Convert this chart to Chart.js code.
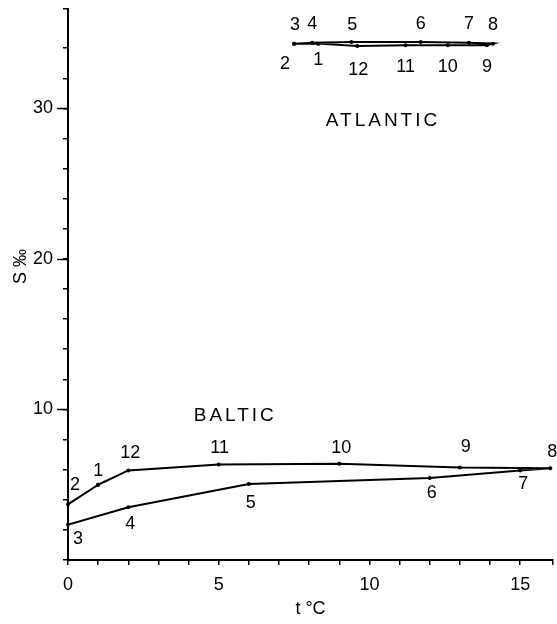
<!DOCTYPE html>
<html>
<head>
<meta charset="utf-8">
<script src="https://cdn.jsdelivr.net/npm/chart.js@4/dist/chart.umd.min.js"></script>
<style>
  html, body { margin: 0; padding: 0; background: #fff; }
  #wrap { width: 557px; height: 624px; position: relative; }
</style>
</head>
<body>
<div id="wrap"><canvas id="chTS"></canvas></div>
<script>
// T-S diagram, monthly means (1..12), Baltic vs Atlantic

const MONTHS = ['1', '2', '3', '4', '5', '6', '7', '8', '9', '10', '11', '12'];

// Baltic: temperature (°C) and salinity (‰)
const balticT = [1.0, 0.0, 0.0, 2.0, 6.0, 12.0, 15.0, 16.0, 13.0, 9.0, 5.0, 2.0];
const balticS = [5.0, 3.7, 2.35, 3.5, 5.05, 5.45, 5.95, 6.1, 6.15, 6.4, 6.35, 5.95];

// Atlantic
const atlanticT = [8.3, 7.5, 7.5, 8.1, 9.4, 11.7, 13.3, 14.1, 13.9, 12.6, 11.2, 9.6];
const atlanticS = [34.3, 34.3, 34.3, 34.35, 34.4, 34.4, 34.35, 34.3, 34.2, 34.2, 34.2, 34.15];

// axis ticks
const xLabelTicks = [0, 5, 10, 15];
const yLabelTicks = [10, 20, 30];

// where each month number sits relative to its point (px)
const balticLabelOff = [[0, -14], [7, -19], [10, 14], [2, 17], [2, 19], [2, 15],
                        [3, 14], [2, -16], [6, -20], [2, -16], [1, -16], [2, -17]];
const atlanticLabelOff = [[0, 16], [-9, 20], [1, -19], [0, -19], [1, -17], [0, -18],
                          [0, -19], [0, -19], [0, 22], [0, 22], [0, 22], [1, 24]];

// region names, placed in data coords
const regionNames = [
  { text: 'ATLANTIC', t: 10.4, s: 29.2 },
  { text: 'BALTIC', t: 5.5, s: 9.6 }
];

const FONT = 'Liberation Sans';
const INK = '#000';

function loop(ts, ss) {
  const pts = ts.map((t, i) => ({ x: t, y: ss[i] }));
  pts.push(pts[0]); // close the annual cycle
  return pts;
}

const monthLabels = {
  id: 'monthLabels',
  afterDatasetsDraw(chart) {
    const ctx = chart.ctx;
    ctx.save();
    ctx.fillStyle = INK;
    ctx.font = `18px "${FONT}"`;
    ctx.textAlign = 'center';
    ctx.textBaseline = 'middle';
    const offs = [balticLabelOff, atlanticLabelOff];
    chart.data.datasets.forEach((ds, di) => {
      const meta = chart.getDatasetMeta(di);
      MONTHS.forEach((m, i) => {
        const p = meta.data[i];
        ctx.fillText(m, p.x + offs[di][i][0], p.y + offs[di][i][1]);
      });
    });
    // region names
    const xs = chart.scales.x, ys = chart.scales.y;
    ctx.font = `19px "${FONT}"`;
    ctx.letterSpacing = '3px';
    for (const r of regionNames) {
      ctx.fillText(r.text, xs.getPixelForValue(r.t) + 1.5, ys.getPixelForValue(r.s));
    }
    ctx.restore();
  },
  afterDraw(chart) {
    // longer ticks at labelled salinity values
    const ctx = chart.ctx;
    const ys = chart.scales.y;
    const left = chart.chartArea.left;
    ctx.save();
    ctx.strokeStyle = INK;
    ctx.lineWidth = 1.5;
    for (const v of yLabelTicks) {
      const y = Math.round(ys.getPixelForValue(v)) + 0.5;
      ctx.beginPath();
      ctx.moveTo(left - 11, y);
      ctx.lineTo(left, y);
      ctx.stroke();
    }
    ctx.restore();
  }
};

const lineStyle = {
  showLine: true,
  borderColor: INK,
  backgroundColor: INK,
  borderWidth: 2,
  pointRadius: 2,
  pointBorderWidth: 0,
  pointBackgroundColor: INK,
  tension: 0,
  clip: false
};

new Chart(document.getElementById('chTS'), {
  type: 'scatter',
  data: {
    datasets: [
      { label: 'Baltic', data: loop(balticT, balticS), ...lineStyle },
      { label: 'Atlantic', data: loop(atlanticT, atlanticS), ...lineStyle }
    ]
  },
  options: {
    responsive: true,
    maintainAspectRatio: false,
    animation: false,
    devicePixelRatio: 1,
    layout: { padding: { top: 9, right: 0, left: 0, bottom: 0 } },
    plugins: { legend: { display: false }, tooltip: { enabled: false } },
    scales: {
      x: {
        type: 'linear',
        min: 0,
        max: 16.09,
        afterFit: (s) => { s.height = 64; s.paddingLeft = 0; s.paddingRight = 0; },
        border: { color: INK, width: 2 },
        grid: { drawOnChartArea: false, drawTicks: true, tickLength: 5, color: INK, lineWidth: 1.5 },
        ticks: {
          stepSize: 1,
          autoSkip: false,
          maxRotation: 0,
          padding: 9,
          color: INK,
          font: { family: FONT, size: 18 },
          callback: (v) => xLabelTicks.includes(v) ? String(v) : ''
        },
        title: {
          display: true,
          text: 't °C',
          color: INK,
          font: { family: FONT, size: 18 },
          padding: { top: 0, bottom: 4 }
        }
      },
      y: {
        type: 'linear',
        min: 0,
        max: 36.6,
        afterFit: (s) => { s.width = 68; s.paddingTop = 0; s.paddingBottom = 0; },
        border: { color: INK, width: 2 },
        grid: { drawOnChartArea: false, drawTicks: true, tickLength: 5, color: INK, lineWidth: 1.5 },
        ticks: {
          stepSize: 2,
          autoSkip: false,
          padding: 10,
          color: INK,
          font: { family: FONT, size: 18 },
          callback: (v) => yLabelTicks.includes(v) ? String(v) : ''
        },
        title: {
          display: true,
          text: '\u2003\u2003S ‰',
          color: INK,
          font: { family: FONT, size: 18 },
          padding: { top: 10, bottom: 0 }
        }
      }
    }
  },
  plugins: [monthLabels]
});
</script>
</body>
</html>
